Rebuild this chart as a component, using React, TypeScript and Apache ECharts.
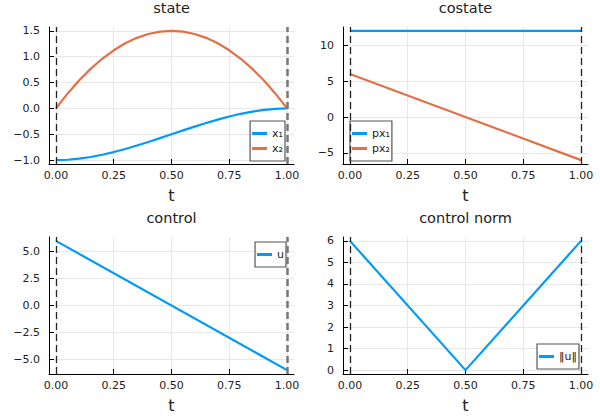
import React, { useEffect, useRef } from "react";
import * as echarts from "echarts";

// sampled time grid for the state plot
const tState = [0, 0.05, 0.1, 0.15, 0.2, 0.25, 0.3, 0.35, 0.4, 0.45, 0.5, 0.55, 0.6, 0.65, 0.7, 0.75, 0.8, 0.85, 0.9, 0.95, 1];
const x1Values = [-1, -0.993, -0.972, -0.939, -0.896, -0.844, -0.784, -0.718, -0.648, -0.575, -0.5, -0.425, -0.352, -0.282, -0.216, -0.156, -0.104, -0.061, -0.028, -0.007, 0];
const x2Values = [0, 0.285, 0.54, 0.765, 0.96, 1.125, 1.26, 1.365, 1.44, 1.485, 1.5, 1.485, 1.44, 1.365, 1.26, 1.125, 0.96, 0.765, 0.54, 0.285, 0];

const tEnds = [0, 1];
const px1Values = [12, 12];
const px2Values = [6, -6];
const uValues = [6, -6];

const tNorm = [0, 0.5, 1];
const uNormValues = [6, 0, 6];

// tick labels
const tTicks = [0, 0.25, 0.5, 0.75, 1];
const stateTicks = [-1, -0.5, 0, 0.5, 1, 1.5];
const costateTicks = [-5, 0, 5, 10];
const controlTicks = [-5, -2.5, 0, 2.5, 5];
const normTicks = [0, 1, 2, 3, 4, 5, 6];

const titles = ["state", "costate", "control", "control norm"];

const BLUE = "#009AFA";
const ORANGE = "#E36F47";
const FONT = "'DejaVu Sans', sans-serif";

const grids = [
  { left: 49, top: 27, width: 245, height: 137 },
  { left: 343, top: 27, width: 245, height: 137 },
  { left: 49, top: 237, width: 245, height: 137 },
  { left: 343, top: 237, width: 245, height: 137 },
];

// Plots.jl style 3% padding around the data range
const widen = (lo: number, hi: number) => {
  const d = (hi - lo) * 0.03;
  return [lo - d, hi + d];
};

const pairs = (xs: number[], ys: number[]) => xs.map((x, i) => [x, ys[i]]);
const fmt = (d: number) => (v: number) => v.toFixed(d).replace("-", "\u2212");

const App = () => {
  const chartRef = useRef<HTMLDivElement>(null);

  useEffect(() => {
    const chart = echarts.init(chartRef.current, null, { renderer: "svg" });

    const xr = widen(0, 1);
    const yRanges = [
      widen(Math.min(...x1Values, ...x2Values), Math.max(...x1Values, ...x2Values)),
      widen(Math.min(...px1Values, ...px2Values), Math.max(...px1Values, ...px2Values)),
      widen(Math.min(...uValues), Math.max(...uValues)),
      widen(Math.min(...uNormValues), Math.max(...uNormValues)),
    ];
    const yTicks = [stateTicks, costateTicks, controlTicks, normTicks];
    const yDigits = [1, 0, 1, 0];

    const labelStyle = { fontFamily: FONT, fontSize: 11, color: "#222" };

    const axisCommon = {
      axisLine: { show: true, onZero: false, lineStyle: { color: "#000", width: 1 } },
      axisTick: { show: true, inside: true, length: 5, lineStyle: { color: "#000", width: 1 } },
      splitLine: { show: true, lineStyle: { color: "#e8e8e8", width: 1 } },
    };

    const xAxis = grids.map((_, i) => ({
      type: "value",
      gridIndex: i,
      min: xr[0],
      max: xr[1],
      name: "t",
      nameLocation: "middle",
      nameGap: 23,
      nameTextStyle: { fontFamily: FONT, fontSize: 16, color: "#222" },
      ...axisCommon,
      axisTick: { ...axisCommon.axisTick, customValues: tTicks },
      axisLabel: {
        ...labelStyle,
        customValues: tTicks,
        formatter: fmt(2),
        margin: 6,
      },
    }));

    const yAxis = grids.map((_, i) => ({
      type: "value",
      gridIndex: i,
      min: yRanges[i][0],
      max: yRanges[i][1],
      ...axisCommon,
      axisTick: { ...axisCommon.axisTick, customValues: yTicks[i] },
      axisLabel: {
        ...labelStyle,
        customValues: yTicks[i],
        formatter: fmt(yDigits[i]),
        margin: 9,
      },
    }));

    const vlines = (rightColor: string, rightWidth: number) => ({
      silent: true,
      symbol: ["none", "none"],
      label: { show: false },
      emphasis: { disabled: true },
      animation: false,
      data: [
        { xAxis: 0, lineStyle: { color: "#222", width: 1.3, type: [7, 4] } },
        { xAxis: 1, lineStyle: { color: rightColor, width: rightWidth, type: [7, 4] } },
      ],
    });

    const lineSeries = (name: string, grid: number, data: number[][], color: string, markLine?: object) => ({
      type: "line",
      name,
      xAxisIndex: grid,
      yAxisIndex: grid,
      data,
      showSymbol: false,
      symbol: "none",
      color,
      lineStyle: { color, width: 2.2 },
      emphasis: { disabled: true },
      ...(markLine ? { markLine } : {}),
    });

    const legendCommon = {
      orient: "vertical",
      backgroundColor: "#fff",
      borderColor: "#555",
      borderWidth: 1.2,
      borderRadius: 0,
      padding: [6, 2, 6, 2],
      itemGap: 2,
      itemWidth: 15,
      itemHeight: 3,
      icon: "rect",
      selectedMode: false,
      textStyle: { ...labelStyle, lineHeight: 13 },
    };

    const option = {
      animation: false,
      textStyle: { fontFamily: FONT },
      grid: grids.map((g) => ({ ...g, outerBoundsMode: "none" })),
      xAxis,
      yAxis,
      graphic: titles.map((text, i) => ({
        type: "text",
        x: grids[i].left + grids[i].width / 2,
        y: grids[i].top - 19,
        style: {
          text,
          fontFamily: FONT,
          fontSize: 14.5,
          fill: "#222",
          textAlign: "center",
          textVerticalAlign: "middle",
        },
      })),
      legend: [
        { ...legendCommon, data: ["x\u2081", "x\u2082"], right: 315, top: 121 },
        { ...legendCommon, data: ["px\u2081", "px\u2082"], left: 350, top: 121 },
        { ...legendCommon, data: ["u"], right: 314, top: 242 },
        { ...legendCommon, data: ["\u2016u\u2016"], right: 21, top: 344 },
      ],
      series: [
        lineSeries("x\u2081", 0, pairs(tState, x1Values), BLUE, vlines("#777", 2.5)),
        lineSeries("x\u2082", 0, pairs(tState, x2Values), ORANGE),
        lineSeries("px\u2081", 1, pairs(tEnds, px1Values), BLUE, vlines("#222", 1.3)),
        lineSeries("px\u2082", 1, pairs(tEnds, px2Values), ORANGE),
        lineSeries("u", 2, pairs(tEnds, uValues), BLUE, vlines("#777", 2.5)),
        lineSeries("\u2016u\u2016", 3, pairs(tNorm, uNormValues), BLUE, vlines("#222", 1.3)),
      ],
    };

    chart.setOption(option as echarts.EChartsOption);

    return () => {
      chart.dispose();
    };
  }, []);

  return (
    <div
      ref={chartRef}
      style={{ position: "absolute", left: 0, top: 0, width: "600px", height: "420px", background: "#fff" }}
    ></div>
  );
};

export default App;
